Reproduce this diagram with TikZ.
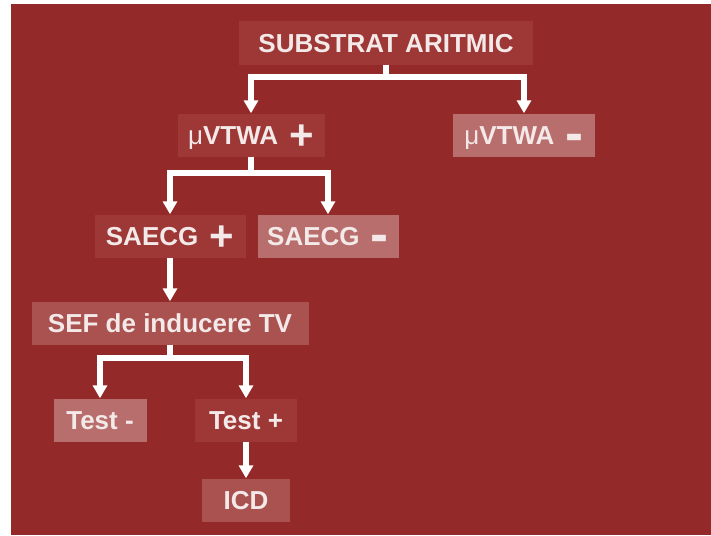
\documentclass[tikz,border=0pt]{standalone}
\usepackage{fontspec}
\setmainfont{Liberation Sans}
\usetikzlibrary{arrows.meta}
\definecolor{fond}{HTML}{932A29}
\definecolor{cutieA}{HTML}{9E3836}
\definecolor{cutieB}{HTML}{A9524F}
\definecolor{cutieC}{HTML}{B86E6C}
\definecolor{scris}{HTML}{F3E9E8}
\newcommand{\semnplus}{\hspace{4pt}\raisebox{-5pt}{\fontsize{42}{42}\selectfont +}}
\newcommand{\semnminus}{\hspace{4pt}\raisebox{-7pt}{\fontsize{54}{54}\selectfont -}}
\newcommand{\miu}{{\mdseries μ}}
\begin{document}
\begin{tikzpicture}[x=1pt,y=-1pt,
  cutie/.style={text=scris,font=\bfseries\fontsize{26}{30}\selectfont,minimum height=43pt,inner sep=0pt,text height=18.7pt,text depth=0pt},
  legatura/.style={draw=white,line width=6pt,line join=miter,-{Triangle[width=14pt,length=13pt]}}]
\useasboundingbox (0,0) rectangle (711,535);
\fill[fond] (11,4) rectangle (711,535);
\foreach \n/\x/\y/\w/\c/\t in {sub/386/43/294/cutieA/SUBSTRAT ARITMIC,
    vp/251/135/147/cutieA/{\miu VTWA \semnplus}, vm/524/135/142/cutieC/{\miu VTWA \semnminus},
    sp/170/236/151/cutieA/{SAECG \semnplus}, sm/328/236/141/cutieC/{SAECG \semnminus},
    sef/170/323/277/cutieB/SEF de inducere TV,
    tm/100/420/93/cutieC/Test -, tp/246/420/102/cutieA/Test +,
    icd/246/500/88/cutieB/ICD}
  \node[cutie,fill=\c,minimum width=\w pt] (\n) at (\x,\y) {\t};
\foreach \a/\b in {vp/sub, vm/sub}
  \draw[legatura] (\b.south) -- ++(0,12) -| (\a.north);
\foreach \a/\b in {sp/vp, sm/vp}
  \draw[legatura] (\b.south) -- ++(0,16) -| (\a.north);
\foreach \a/\b in {tm/sef, tp/sef}
  \draw[legatura] (\b.south) -- ++(0,13) -| (\a.north);
\draw[legatura] (sp.south) -- (sef.north);
\draw[legatura] (tp.south) -- (icd.north);
\end{tikzpicture}
\end{document}
